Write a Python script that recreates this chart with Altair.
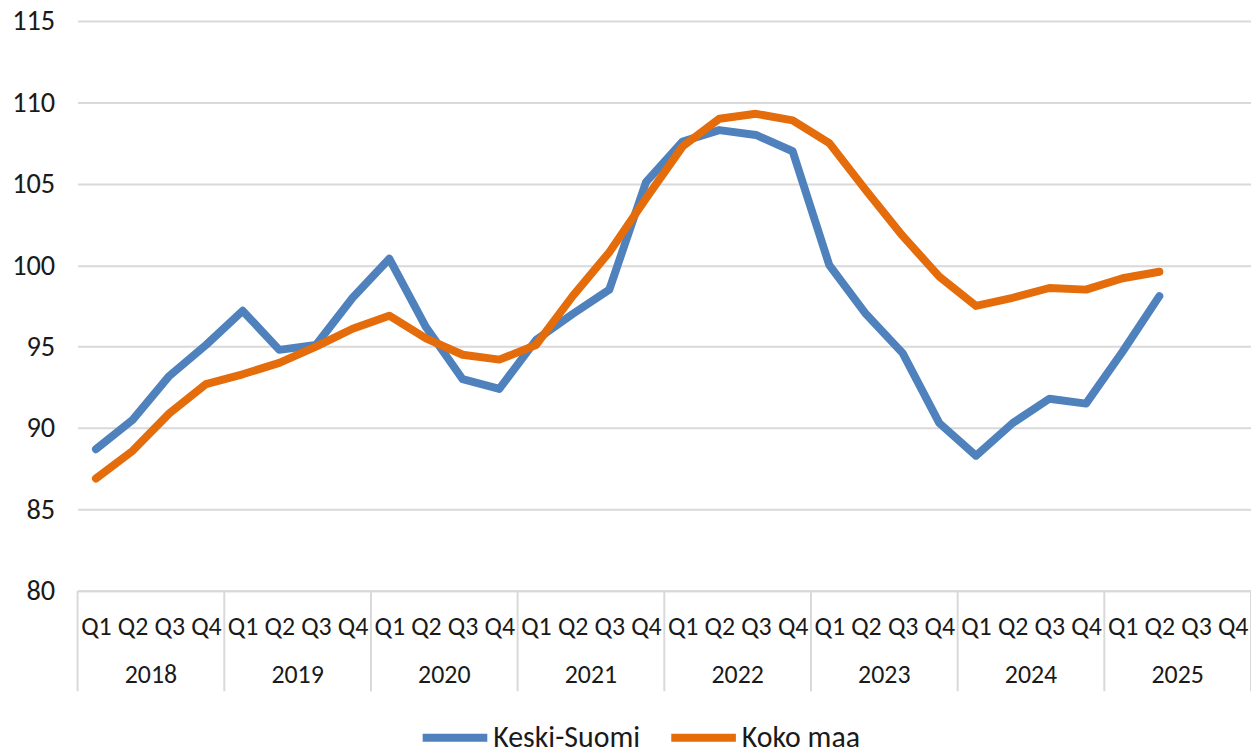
import altair as alt
import pandas as pd

quarters = ["Q1", "Q2", "Q3", "Q4"]
years = [2018, 2019, 2020, 2021, 2022, 2023, 2024, 2025]
series_names = ["Keski-Suomi", "Koko maa"]
keski_suomi = [88.7, 90.5, 93.2, 95.1, 97.2, 94.8, 95.1, 98.0,
               100.4, 96.2, 93.0, 92.4, 95.4, 97.0, 98.5, 105.1,
               107.6, 108.3, 108.0, 107.0, 100.0, 97.0, 94.6, 90.3,
               88.3, 90.3, 91.8, 91.5, 94.7, 98.1]
koko_maa = [86.9, 88.6, 90.9, 92.7, 93.3, 94.0, 95.0, 96.1,
            96.9, 95.5, 94.5, 94.2, 95.1, 98.1, 100.8, 104.1,
            107.3, 109.0, 109.3, 108.9, 107.5, 104.6, 101.8, 99.3,
            97.5, 98.0, 98.6, 98.5, 99.2, 99.6]
y_ticks = [80, 85, 90, 95, 100, 105, 110, 115]

colors = ["#4f81bd", "#e46c0a"]
FONT = "Carlito, Calibri, Lato, sans-serif"
W, H = 1180, 573
n_q = len(years) * len(quarters)

rows = []
for name, vals in zip(series_names, [keski_suomi, koko_maa]):
    for i, v in enumerate(vals):
        rows.append({"pos": i + 0.5, "series": name, "value": v})
df = pd.DataFrame(rows)

years_df = pd.DataFrame({"year": [str(y) for y in years],
                         "center": [4 * k + 2 for k in range(len(years))]})
sep_df = pd.DataFrame({"b": [4 * k for k in range(len(years) + 1)]})

q_expr = "[" + ",".join("'%s'" % q for q in quarters) + "][floor(datum.value) % 4]"

x_scale = alt.Scale(domain=[0, n_q], nice=False, zero=False)


def x_axis():
    return alt.Axis(values=[i + 0.5 for i in range(n_q)], labelExpr=q_expr,
                    title=None, grid=False, ticks=False, tickSize=0, domain=True,
                    domainColor="#d9d9d9", domainWidth=2,
                    labelFont=FONT, labelFontSize=26, labelColor="#1a1a1a",
                    labelBaseline="middle", labelPadding=36, labelOverlap=False,
                    labelFlush=False, labelBound=False)


lines = alt.Chart(df).mark_line(strokeWidth=8, strokeCap="round", strokeJoin="round").encode(
    x=alt.X("pos:Q", scale=x_scale, axis=x_axis()),
    y=alt.Y("value:Q", scale=alt.Scale(domain=[80, 115], nice=False, zero=False),
            axis=alt.Axis(values=y_ticks, title=None, grid=True, gridColor="#d9d9d9",
                          gridWidth=2, domain=False, ticks=False,
                          labelFont=FONT, labelFontSize=28.5, labelColor="#1a1a1a",
                          labelPadding=23)),
    color=alt.Color("series:N", sort=series_names,
                    scale=alt.Scale(domain=series_names, range=colors),
                    legend=alt.Legend(title=None, orient="none", legendX=343, legendY=684,
                                      direction="horizontal", symbolType="stroke",
                                      symbolStrokeWidth=8, symbolSize=4225,
                                      labelFont=FONT, labelFontSize=30,
                                      labelColor="#1a1a1a", labelOffset=2,
                                      columnPadding=15)),
    order=alt.Order("pos:Q"),
)

seps = alt.Chart(sep_df).mark_rule(color="#d9d9d9", strokeWidth=2).encode(
    x=alt.X("b:Q", scale=x_scale, axis=x_axis()),
    y=alt.value(H),
    y2=alt.value(H + 101),
)

year_text = alt.Chart(years_df).mark_text(font=FONT, fontSize=26, color="#1a1a1a",
                                          baseline="middle", align="center").encode(
    x=alt.X("center:Q", scale=x_scale, axis=x_axis()),
    y=alt.value(H + 85),
    text="year:N",
)

chart = alt.layer(seps, lines, year_text).properties(
    width=W, height=H,
    autosize=alt.AutoSizeParams(type="none"),
    padding={"left": 70, "top": 11, "right": 0, "bottom": 160},
).configure_view(stroke=None)

chart.save("out.html", embed_options={"renderer": "svg", "actions": False})
